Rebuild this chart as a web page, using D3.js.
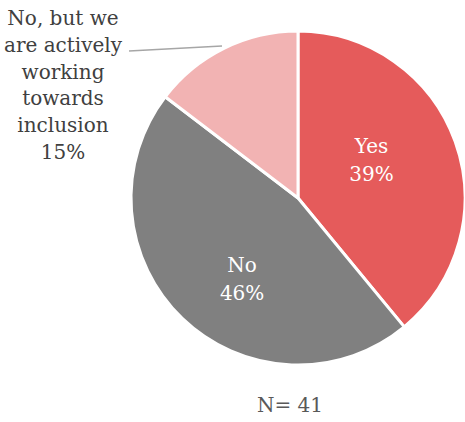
<!DOCTYPE html>
<html>
<head>
<meta charset="utf-8">
<script src="https://cdn.jsdelivr.net/npm/d3@7"></script>
<style>
  body { margin: 0; background: #fff; }
  text { font-family: "DejaVu Serif", Georgia, serif; }
</style>
</head>
<body>
<div id="chart"></div>
<script>
// answers and counts (N = 41)
const categories = ["Yes", "No", "No, but we are actively working towards inclusion"];
const counts = [16, 19, 6];
const pctLabels = ["39%", "46%", "15%"];
const colors = ["#E55B5B", "#808080", "#F2B3B3"];

const width = 465, height = 422;
const cx = 298, cy = 198, radius = 167;

const svg = d3.select("#chart").append("svg")
    .attr("width", width)
    .attr("height", height);

const data = categories.map((c, i) => ({ name: c, value: counts[i], pct: pctLabels[i], color: colors[i] }));

const pie = d3.pie().value(d => d.value).sort(null);
const arc = d3.arc().innerRadius(0).outerRadius(radius);
const labelArc = d3.arc().innerRadius(radius * 0.5).outerRadius(radius * 0.5);

const g = svg.append("g").attr("transform", `translate(${cx},${cy})`);
const arcs = pie(data);

g.selectAll("path")
  .data(arcs)
  .join("path")
    .attr("d", arc)
    .attr("fill", d => d.data.color)
    .attr("stroke", "#fff")
    .attr("stroke-width", 3)
    .attr("stroke-linejoin", "round");

// inside labels for the two big slices (nudged like the original)
const nudge = [[-5, -14], [2, 17]];
arcs.slice(0, 2).forEach((d, i) => {
  const [x0, y0] = labelArc.centroid(d);
  const x = x0 + nudge[i][0], y = y0 + nudge[i][1];
  const t = g.append("text")
    .attr("text-anchor", "middle")
    .attr("fill", "#fff")
    .style("font-size", "20px");
  t.append("tspan").attr("x", x).attr("y", y - 3).text(d.data.name);
  t.append("tspan").attr("x", x).attr("y", y + 25).text(d.data.pct);
});

// outside label for the small slice
const outLines = ["No, but we", "are actively", "working", "towards", "inclusion", "15%"];
const ot = svg.append("text")
  .attr("text-anchor", "middle")
  .attr("fill", "#404040")
  .style("font-size", "20px");
outLines.forEach((l, i) => {
  ot.append("tspan").attr("x", 63).attr("y", 25 + i * 26.8).text(l);
});

// leader line
svg.append("line")
  .attr("x1", 129).attr("y1", 51)
  .attr("x2", 222).attr("y2", 46)
  .attr("stroke", "#A6A6A6")
  .attr("stroke-width", 1.5);

svg.append("text")
  .attr("x", 290)
  .attr("y", 412)
  .attr("text-anchor", "middle")
  .attr("fill", "#595959")
  .style("font-size", "20px")
  .text("N= 41");
</script>
</body>
</html>
